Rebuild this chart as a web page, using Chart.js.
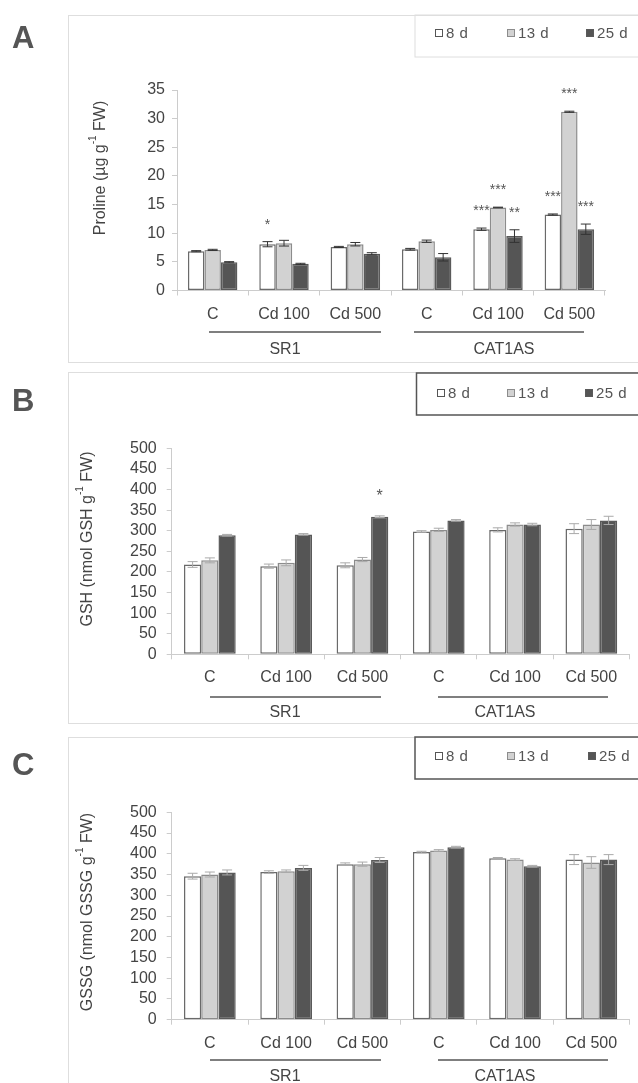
<!DOCTYPE html>
<html>
<head>
<meta charset="utf-8">
<script src="https://cdn.jsdelivr.net/npm/chart.js@4.4.1/dist/chart.umd.min.js"></script>
<style>
  body { margin: 0; background: #fff; width: 638px; height: 1083px; overflow: hidden; position: relative; }
  canvas { position: absolute; left: 0; }
</style>
</head>
<body>
<canvas id="chartA" width="638" height="365" style="top:0px"></canvas>
<canvas id="chartB" width="638" height="365" style="top:365px"></canvas>
<canvas id="chartC" width="638" height="353" style="top:730px"></canvas>
<script>
// categories and groups
const categories = ['C', 'Cd 100', 'Cd 500', 'C', 'Cd 100', 'Cd 500'];
const lines = ['SR1', 'CAT1AS'];
const seriesNames = ['8 d', '13 d', '25 d'];

// Panel A - proline (µg g-1 FW)
const proline8d  = [6.86, 8.08, 7.6, 7.2, 10.7, 13.26];
const proline13d = [7.09, 8.26, 8.08, 8.6, 14.5, 31.2];
const proline25d = [4.94, 4.65, 6.4, 5.8, 9.5, 10.7];
const prolineErr8d  = [0.1, 0.45, 0.1, 0.15, 0.2, 0.1];
const prolineErr13d = [0.1, 0.5, 0.3, 0.2, 0.05, 0.1];
const prolineErr25d = [0.1, 0.1, 0.2, 0.65, 1.1, 0.9];
const prolineStars8d  = ['', '*', '', '', '***', '***'];
const prolineStars13d = ['', '', '', '', '***', '***'];
const prolineStars25d = ['', '', '', '', '**', '***'];
const prolineTicks = [0, 5, 10, 15, 20, 25, 30, 35];

// Panel B - GSH
const gsh8d  = [218, 214, 216, 298, 302, 305];
const gsh13d = [228, 222, 230, 302, 315, 315];
const gsh25d = [289, 291, 334, 325, 315, 325];
const gshErr8d  = [7, 5, 6, 2, 5, 12];
const gshErr13d = [6, 7, 5, 4, 4, 12];
const gshErr25d = [2, 2, 2, 2, 3, 10];
const gshStars25d = ['', '', '*', '', '', ''];

// Panel C - GSSG
const gssg8d  = [346, 356, 375, 404, 389, 386];
const gssg13d = [350, 358, 375, 408, 386, 379];
const gssg25d = [355, 366, 385, 416, 370, 386];
const gssgErr8d  = [7, 3, 3, 2, 2, 12];
const gssgErr13d = [6, 3, 5, 2, 2, 14];
const gssgErr25d = [6, 6, 6, 2, 2, 12];
const glutTicks = [0, 50, 100, 150, 200, 250, 300, 350, 400, 450, 500];

const FONT = '"Liberation Sans", Arial, sans-serif';
const fills = ['#ffffff', '#d2d2d2', '#555555'];
const borders = ['#6a6a6a', '#8c8c8c', '#5a5a5a'];

function makePanel(id, cfg) {
  const decor = {
    id: 'decor',
    beforeDraw(chart) {
      const c = chart.ctx;
      c.save();
      // panel frame
      c.strokeStyle = '#dedede';
      c.lineWidth = 1;
      const f = cfg.frame;
      c.strokeRect(f[0] + 0.5, f[1] + 0.5, f[2], f[3]);
      c.restore();
    },
    afterDatasetsDraw(chart) {
      const c = chart.ctx;
      const ys = chart.scales.y;
      c.save();
      chart.data.datasets.forEach((ds, i) => {
        const meta = chart.getDatasetMeta(i);
        meta.data.forEach((bar, j) => {
          const v = ds.data[j], e = ds.err[j];
          const top = ys.getPixelForValue(v + e);
          const bot = ys.getPixelForValue(v - e);
          c.strokeStyle = cfg.errColor;
          c.lineWidth = 1;
          c.beginPath();
          c.moveTo(bar.x, top); c.lineTo(bar.x, bot);
          c.moveTo(bar.x - 5, top); c.lineTo(bar.x + 5, top);
          c.moveTo(bar.x - 5, bot); c.lineTo(bar.x + 5, bot);
          c.stroke();
          const s = ds.stars[j];
          if (s) {
            c.fillStyle = '#555';
            c.font = cfg.starFont + 'px ' + FONT;
            c.textAlign = 'center';
            c.textBaseline = 'alphabetic';
            c.fillText(s, bar.x, top - cfg.starOffset);
          }
        });
      });
      c.restore();
    },
    afterDraw(chart) {
      const c = chart.ctx;
      c.save();
      // legend box
      const lb = cfg.legendBox;
      c.strokeStyle = cfg.legendColor;
      c.lineWidth = cfg.legendWidth;
      c.strokeRect(lb[0], lb[1], lb[2], lb[3]);
      c.font = '15px ' + FONT;
      c.textBaseline = 'middle';
      c.textAlign = 'left';
      if ('letterSpacing' in c) c.letterSpacing = '0.5px';
      chart.data.datasets.forEach((ds, i) => {
        const mx = cfg.legendX[i];
        c.fillStyle = ds.backgroundColor;
        c.fillRect(mx, cfg.legendY - 4, 8, 8);
        c.strokeStyle = i === 0 ? '#555' : ds.borderColor;
        c.lineWidth = 1;
        c.strokeRect(mx + 0.5, cfg.legendY - 3.5, 7, 7);
        c.fillStyle = '#555';
        c.fillText(ds.label, mx + 11, cfg.legendY + 0.5);
      });
      if ('letterSpacing' in c) c.letterSpacing = '0px';
      // group lines and labels
      c.strokeStyle = '#555';
      c.lineWidth = 1.5;
      c.fillStyle = '#444';
      c.font = '16px ' + FONT;
      c.textAlign = 'center';
      c.textBaseline = 'middle';
      cfg.groups.forEach((g, i) => {
        c.beginPath();
        c.moveTo(g[0], cfg.groupY); c.lineTo(g[1], cfg.groupY);
        c.stroke();
        c.fillText(lines[i], g[2], cfg.groupLabelY);
      });
      // y title with superscript
      const t = cfg.title;
      c.translate(cfg.titleX, cfg.titleY);
      c.rotate(-Math.PI / 2);
      c.font = '16px ' + FONT;
      const w1 = c.measureText(t[0]).width;
      const w3 = c.measureText(t[2]).width;
      c.font = '10px ' + FONT;
      const w2 = c.measureText(t[1]).width;
      let x = -(w1 + w2 + w3) / 2;
      c.textAlign = 'left';
      c.textBaseline = 'middle';
      c.font = '16px ' + FONT;
      c.fillText(t[0], x, 0); x += w1;
      c.font = '10px ' + FONT;
      c.fillText(t[1], x, -7); x += w2;
      c.font = '16px ' + FONT;
      c.fillText(t[2], x, 0);
      c.setTransform(1, 0, 0, 1, 0, 0);
      // panel letter
      c.font = 'bold 31px ' + FONT;
      c.fillStyle = '#555';
      c.textAlign = 'left';
      c.textBaseline = 'alphabetic';
      c.fillText(cfg.letter, 12, cfg.letterY);
      c.restore();
    }
  };

  return new Chart(document.getElementById(id), {
    type: 'bar',
    data: {
      labels: categories,
      datasets: cfg.series.map((s, i) => ({
        label: seriesNames[i],
        data: s.values,
        err: s.err,
        stars: s.stars,
        backgroundColor: fills[i],
        borderColor: borders[i],
        borderWidth: 1.5,
        borderSkipped: false,
        categoryPercentage: cfg.catPct,
        barPercentage: 1
      }))
    },
    options: {
      responsive: false,
      animation: false,
      devicePixelRatio: 1,
      layout: { padding: cfg.padding },
      plugins: { legend: { display: false }, tooltip: { enabled: false } },
      scales: {
        x: {
          grid: { drawOnChartArea: false, color: '#cccccc', tickLength: 5, offset: true },
          border: { color: '#cccccc' },
          ticks: { color: '#444', font: { family: FONT, size: 16 }, padding: 9, maxRotation: 0, autoSkip: false },
          afterFit: s => { s.height = 40; }
        },
        y: {
          min: 0,
          max: cfg.ticks[cfg.ticks.length - 1],
          afterBuildTicks: s => { s.ticks = cfg.ticks.map(v => ({ value: v })); },
          grid: { drawOnChartArea: false, color: '#cccccc', tickLength: 5 },
          border: { color: '#cccccc' },
          ticks: { color: '#444', font: { family: FONT, size: 16 }, padding: cfg.yPad, autoSkip: false },
          afterFit: s => { s.width = 50; }
        }
      }
    },
    plugins: [decor]
  });
}

makePanel('chartA', {
  series: [
    { values: proline8d, err: prolineErr8d, stars: prolineStars8d },
    { values: proline13d, err: prolineErr13d, stars: prolineStars13d },
    { values: proline25d, err: prolineErr25d, stars: prolineStars25d }
  ],
  ticks: prolineTicks,
  padding: { left: 127, right: 33, top: 90, bottom: 34.5 },
  catPct: 0.693,
  yPad: 7,
  errColor: '#333',
  starFont: 14, starOffset: 13,
  frame: [68, 15, 580, 347],
  legendBox: [415, 15, 240, 42], legendColor: '#dedede', legendWidth: 1,
  legendX: [435, 507, 586], legendY: 33,
  groups: [[209, 381, 285], [414, 584, 504]], groupY: 332, groupLabelY: 350,
  title: ['Proline (µg g', '-1', ' FW)'], titleX: 100.5, titleY: 168,
  letter: 'A', letterY: 48
});

makePanel('chartB', {
  series: [
    { values: gsh8d, err: gshErr8d, stars: ['', '', '', '', '', ''] },
    { values: gsh13d, err: gshErr13d, stars: ['', '', '', '', '', ''] },
    { values: gsh25d, err: gshErr25d, stars: gshStars25d }
  ],
  ticks: glutTicks,
  padding: { left: 121.7, right: 8.5, top: 83.3, bottom: 35.7 },
  catPct: 0.678,
  yPad: 10,
  errColor: '#aaaaaa',
  starFont: 16, starOffset: 15,
  frame: [68, 7, 580, 351],
  legendBox: [416.5, 8, 240, 42], legendColor: '#555', legendWidth: 1.5,
  legendX: [437, 507, 585], legendY: 28,
  groups: [[210, 381, 285], [438, 608, 505]], groupY: 332, groupLabelY: 348,
  title: ['GSH (nmol GSH g', '-1', ' FW)'], titleX: 87.6, titleY: 174,
  letter: 'B', letterY: 46
});

makePanel('chartC', {
  series: [
    { values: gssg8d, err: gssgErr8d, stars: ['', '', '', '', '', ''] },
    { values: gssg13d, err: gssgErr13d, stars: ['', '', '', '', '', ''] },
    { values: gssg25d, err: gssgErr25d, stars: ['', '', '', '', '', ''] }
  ],
  ticks: glutTicks,
  padding: { left: 121.7, right: 8.5, top: 82.3, bottom: 23.3 },
  catPct: 0.678,
  yPad: 10,
  errColor: '#aaaaaa',
  starFont: 16, starOffset: 15,
  frame: [68, 7, 580, 400],
  legendBox: [415, 7, 240, 42], legendColor: '#555', legendWidth: 1.5,
  legendX: [435, 507, 588], legendY: 26,
  groups: [[210, 381, 285], [438, 608, 505]], groupY: 330, groupLabelY: 347,
  title: ['GSSG (nmol GSSG g', '-1', ' FW)'], titleX: 87.6, titleY: 182,
  letter: 'C', letterY: 45
});
</script>
</body>
</html>
